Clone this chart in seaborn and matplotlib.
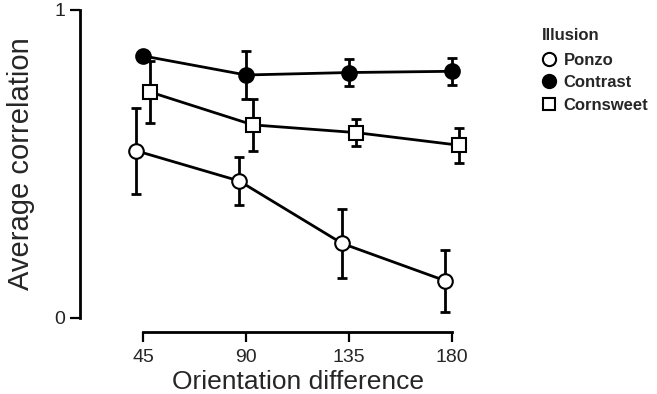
import matplotlib
matplotlib.use('Agg')
import matplotlib.pyplot as plt
import seaborn as sns
import pandas as pd
from matplotlib.lines import Line2D

# orientation difference (deg)
orientations = [45, 90, 135, 180]
illusions = ['Ponzo', 'Contrast', 'Cornsweet']

# average correlation and error
ponzo_mean = [0.543, 0.445, 0.242, 0.121]
ponzo_err = [0.140, 0.077, 0.112, 0.101]
contrast_mean = [0.851, 0.789, 0.797, 0.801]
contrast_err = [0.0, 0.078, 0.043, 0.043]
cornsweet_mean = [0.734, 0.627, 0.602, 0.561]
cornsweet_err = [0.102, 0.085, 0.045, 0.057]

# small horizontal dodge so the error bars don't overlap
dodge = {'Ponzo': -3, 'Contrast': 0, 'Cornsweet': 3}
marker = {'Ponzo': 'o', 'Contrast': 'o', 'Cornsweet': 's'}
face = {'Ponzo': 'white', 'Contrast': 'black', 'Cornsweet': 'white'}
msize = {'Ponzo': 10.5, 'Contrast': 10.5, 'Cornsweet': 9.5}


def make_df():
    means = {'Ponzo': ponzo_mean, 'Contrast': contrast_mean, 'Cornsweet': cornsweet_mean}
    errs = {'Ponzo': ponzo_err, 'Contrast': contrast_err, 'Cornsweet': cornsweet_err}
    rows = {'Orientation': [], 'Correlation': [], 'Err': [], 'Illusion': []}
    for ill in illusions:
        for o, m, e in zip(orientations, means[ill], errs[ill]):
            rows['Orientation'].append(o + dodge[ill])
            rows['Correlation'].append(m)
            rows['Err'].append(e)
            rows['Illusion'].append(ill)
    return pd.DataFrame(rows)


def main():
    sns.set_style('ticks')
    plt.rcParams['font.family'] = ['Liberation Sans', 'DejaVu Sans']

    df = make_df()

    fig = plt.figure(figsize=(6.57, 3.94), dpi=100)
    ax = fig.add_axes([80 / 657, 76 / 394, 395 / 657, 308 / 394])

    for ill in illusions:
        sub = df[df['Illusion'] == ill]
        ax.errorbar(sub['Orientation'], sub['Correlation'], yerr=sub['Err'], fmt='none',
                    ecolor='black', elinewidth=2, capsize=3.5, capthick=2, zorder=2)
        sns.lineplot(x='Orientation', y='Correlation', data=sub, ax=ax, color='black',
                     linewidth=2, marker=marker[ill], markersize=msize[ill],
                     markerfacecolor=face[ill], markeredgecolor='black',
                     markeredgewidth=1.5, zorder=3, legend=False)

    ax.set_xlim(17.5, 190)
    ax.set_ylim(0, 1)
    ax.set_xticks(orientations)
    ax.set_yticks([0, 1])
    ax.set_yticklabels(['0', '1'])
    ax.tick_params(axis='both', labelsize=14, width=1.6, length=7, color='black')
    ax.tick_params(axis='x', pad=5)
    for lab in ax.get_xticklabels() + ax.get_yticklabels():
        lab.set_color('#222222')

    ax.set_xlabel('Orientation difference', fontsize=19)
    ax.set_ylabel('Average correlation', fontsize=21, labelpad=14)
    # centre the x label under the trimmed spine
    ax.xaxis.set_label_coords((112.5 - 17.5) / 172.5, -0.168)
    ax.xaxis.label.set_verticalalignment('top')

    sns.despine(ax=ax)
    ax.spines['bottom'].set_position(('outward', 10))
    ax.spines['bottom'].set_bounds(45, 180)
    for s in ['left', 'bottom']:
        ax.spines[s].set_linewidth(2)
        ax.spines[s].set_color('black')

    handles = [Line2D([], [], linestyle='none', marker=marker[ill], markersize=msize[ill] - 1,
                      markerfacecolor=face[ill], markeredgecolor='black', markeredgewidth=1.5)
               for ill in illusions]
    leg = fig.legend(handles, illusions, title='Illusion', loc='upper left',
                     bbox_to_anchor=(527 / 657, 1 - 13 / 394), frameon=False,
                     prop={'weight': 'bold', 'size': 12}, handlelength=0.8,
                     handletextpad=0.5, labelspacing=0.45, alignment='left')
    plt.setp(leg.get_title(), fontsize=12, fontweight='bold')
    leg._legend_box.sep = 7

    fig.savefig('out.png', dpi=100)
    plt.close()


if __name__ == '__main__':
    main()
